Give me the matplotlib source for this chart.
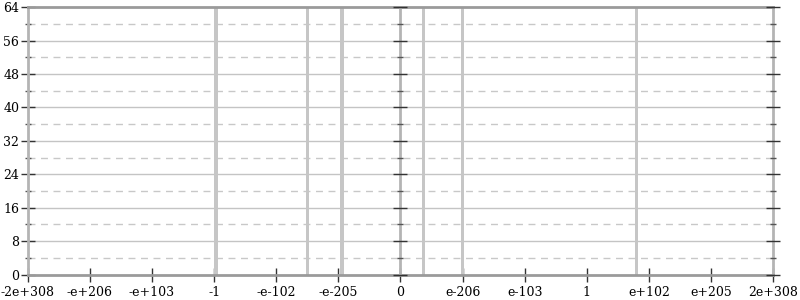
import matplotlib
matplotlib.use("Agg")
import matplotlib.pyplot as plt
import numpy as np

plt.rcParams['font.family'] = ['DejaVu Serif']

# Data
tick_labels = ['-2e+308', '-e+206', '-e+103', '-1', '-e-102', '-e-205', '0',
               'e-206', 'e-103', '1', 'e+102', 'e+205', '2e+308']
tick_pos = list(range(-6, 7))
bar_x = [-2.97, -1.50, -0.94, 0.37, 1.00, 3.80]
bar_h = [64, 64, 64, 64, 64, 64]
y_major = [0, 8, 16, 24, 32, 40, 48, 56, 64]
y_minor = [4, 12, 20, 28, 36, 44, 52, 60]

fig = plt.figure(figsize=(8, 3), dpi=100)
ax = fig.add_axes([0.0346, 0.085, 0.932, 0.8907])
ax.set_xlim(-6, 6)
ax.set_ylim(0, 64)

# grid
for y in y_major[1:-1]:
    ax.axhline(y, color='#c4c4c4', lw=1, zorder=1)
for y in y_minor:
    ax.axhline(y, color='#c8c8c8', lw=1, ls=(0, (5, 4)), zorder=1)

ax.bar(bar_x, bar_h, width=0.055, color='#c6c6c6', zorder=2)

for s in ['top', 'bottom']:
    ax.spines[s].set_color('#9a9a9a')
    ax.spines[s].set_linewidth(2)
for s in ['left', 'right']:
    ax.spines[s].set_color('#b4b4b4')
    ax.spines[s].set_linewidth(2)

ax.set_xticks(tick_pos)
ax.set_xticklabels(tick_labels, fontsize=9)
ax.tick_params(axis='x', direction='inout', length=10, width=1, color='#333333', pad=3)
ax.set_yticks(y_major)
ax.set_yticks(y_minor, minor=True)
ax.tick_params(axis='y', which='major', direction='inout', length=10, width=1,
               color='#333333', labelsize=9, pad=1)
ax.tick_params(axis='y', which='minor', direction='inout', length=5, width=1,
               color='#555555')

# center and right axes
ax.axvline(0, color='#b4b4b4', lw=2, zorder=3)
for xa in [0, 6]:
    ax.plot([xa] * len(y_major), y_major, ls='none', marker='_', ms=10, mew=1,
            color='#333333', clip_on=False, zorder=5)
    ax.plot([xa] * len(y_minor), y_minor, ls='none', marker='_', ms=5, mew=1,
            color='#555555', clip_on=False, zorder=5)

fig.savefig('out.png', dpi=100)
